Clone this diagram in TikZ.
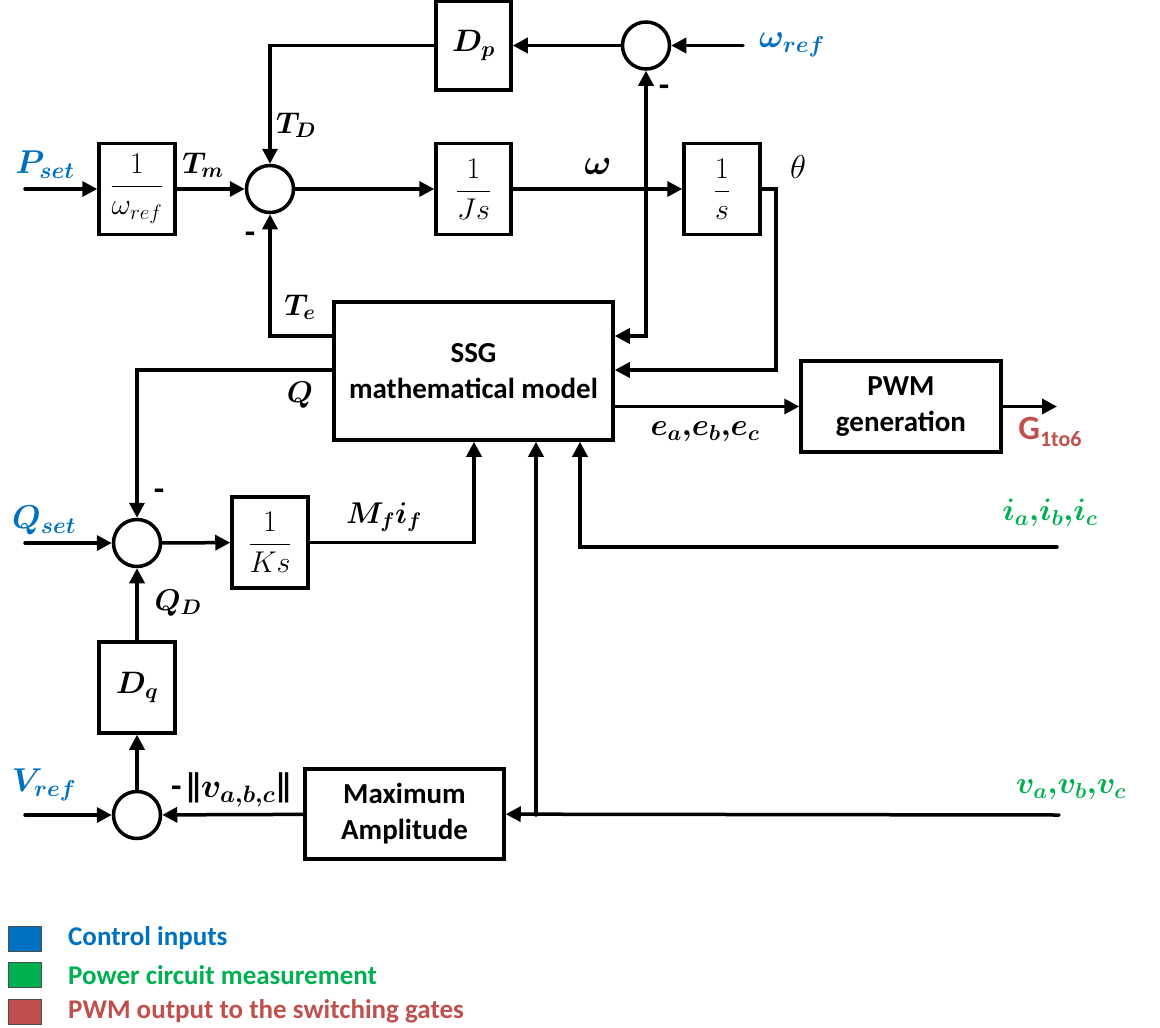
\RequirePackage{fix-cm}
\documentclass[tikz,border=0pt]{standalone}
\usepackage{amsmath}
\usepackage{fontspec}
\setmainfont{Carlito}
\usetikzlibrary{arrows.meta}
\definecolor{ctrl_in}{RGB}{0,112,192}
\definecolor{meas}{RGB}{0,176,80}
\definecolor{pwm_out}{RGB}{192,80,77}
\tikzset{
  blk/.style={draw, line width=3.5pt, minimum width=76pt, minimum height=91pt, inner sep=0pt, font=\fontsize{30}{36}\selectfont},
  sumnode/.style={draw, circle, line width=3.5pt, minimum size=47pt, inner sep=0pt},
  wire/.style={line width=3.5pt, line cap=round},
  sig/.style={wire, -{Triangle[length=15pt,width=15pt]}},
  lbl/.style={inner sep=0pt, font=\fontsize{30}{36}\selectfont},
  inlbl/.style={inner sep=0pt, font=\fontsize{33}{40}\selectfont},
  txt/.style={font=\bfseries\fontsize{29}{36}\selectfont, align=center},
  minus/.style={inner sep=0pt, font=\bfseries\fontsize{34}{40}\selectfont}
}
\begin{document}
\begin{tikzpicture}[x=1pt,y=-1pt]
\useasboundingbox (0,0) rectangle (1160,1028);

\node[blk] (winv) at (137,189) {$\dfrac{1}{\omega_{ref}}$};
\node[blk, minimum width=75pt] (js) at (473.5,189) {$\dfrac{1}{Js}$};
\node[blk] (integ) at (722,189) {$\dfrac{1}{s}$};
\node[blk, minimum width=75pt, minimum height=89pt, font=\fontsize{31}{36}\selectfont] (dp) at (473.5,45.5) {$\boldsymbol{D_p}$};
\node[blk, txt, minimum width=279pt, minimum height=138pt] (ssg) at (473.5,371) {SSG\\mathematical model};
\node[blk, txt, minimum width=200pt] (pwm) at (901,406.5) {PWM\\generation};
\node[blk] (ks) at (270,542.5) {$\dfrac{1}{Ks}$};
\node[blk, font=\fontsize{31}{36}\selectfont] (dq) at (137,687.5) {$\boldsymbol{D_q}$};
\node[blk, txt, minimum width=199pt, minimum height=90pt] (maxamp) at (404.5,814) {Maximum\\Amplitude};

\node[sumnode] (s1) at (270,189) {};
\node[sumnode] (s2) at (646,45.5) {};
\node[sumnode] (s3) at (137,543) {};
\node[sumnode] (s4) at (137,815) {};

\coordinate (pin) at (25,189);
\coordinate (win) at (743,45.5);
\coordinate (qin) at (25,543);
\coordinate (vin) at (25,815);
\coordinate (wtap) at (646,189);
\coordinate (thtap) at (776,189);
\coordinate (vtap) at (536,815);
\coordinate (vmeas) at (1059,815);
\coordinate (iin) at (1057,547);
\coordinate (gout) at (1057,406.5);

\draw[sig] (pin) -- (winv);
\draw[sig] (winv) -- (s1);
\draw[sig] (s1) -- (js);
\draw[sig] (js) -- (integ);
\draw[sig] (wtap) -- (s2);
\draw[sig] (wtap) |- (ssg.east |- 0,336);
\draw[sig] (win) -- (s2);
\draw[sig] (s2) -- (dp);
\draw[sig] (dp) -| (s1);
\draw[sig] (integ) -- (thtap) |- (ssg.east |- 0,370);
\draw[sig] (ssg.west |- 0,336) -| (s1);
\draw[sig] (ssg.west |- 0,370) -| (s3);
\draw[sig] (qin) -- (s3);
\draw[sig] (s3) -- (ks);
\draw[sig] (ks) -| (ssg.south -| 474,0);
\draw[sig] (dq) -- (s3);
\draw[sig] (s4) -- (dq);
\draw[sig] (vin) -- (s4);
\draw[sig] (maxamp) -- (s4);
\draw[sig] (vmeas) -- (maxamp);
\draw[sig] (vtap) -- (ssg.south -| vtap);
\draw[sig] (iin) -| (ssg.south -| 580,0);
\draw[sig] (ssg.east |- pwm) -- (pwm);
\draw[sig] (pwm) -- (gout);

\node[inlbl, text=ctrl_in] (pset) at (45,165) {$\boldsymbol{P_{set}}$};
\node[inlbl, text=ctrl_in] (wref) at (792,45) {$\boldsymbol{\omega_{ref}}$};
\node[inlbl, text=ctrl_in] (qset) at (44,520) {$\boldsymbol{Q_{set}}$};
\node[inlbl, text=ctrl_in] (vref) at (44,785) {$\boldsymbol{V_{ref}}$};
\node[lbl] (tm) at (203,165) {$\boldsymbol{T_m}$};
\node[lbl] (td) at (296,125) {$\boldsymbol{T_D}$};
\node[lbl] (te) at (300,307) {$\boldsymbol{T_e}$};
\node[lbl] (q) at (300,395) {$\boldsymbol{Q}$};
\node[lbl] (qd) at (178,603) {$\boldsymbol{Q_D}$};
\node[inlbl, font=\fontsize{36}{40}\selectfont] (w) at (598,166) {$\boldsymbol{\omega}$};
\node[inlbl] (th) at (798,167) {$\theta$};
\node[lbl] (mfif) at (384,517) {$\boldsymbol{M_f i_f}$};
\node[lbl, font=\fontsize{31}{36}\selectfont] (eabc) at (705,432) {$\boldsymbol{e_a{,}e_b{,}e_c}$};
\node[lbl, font=\fontsize{34}{40}\selectfont] (vnorm) at (233,790) {\textbf{-\kern1pt|\kern-10pt|}\kern-4pt$\boldsymbol{v_{a,b,c}}$\kern-3pt\textbf{|\kern-10pt|}};
\node[lbl, text=meas, font=\fontsize{31}{36}\selectfont] (iabc) at (1050,513) {$\boldsymbol{i_a{,}i_b{,}i_c}$};
\node[lbl, text=meas, font=\fontsize{31}{36}\selectfont] (vabc) at (1071,790) {$\boldsymbol{v_a{,}v_b{,}v_c}$};
\node[lbl, text=pwm_out] (g) at (1050,432) {\textbf{\fontsize{34}{40}\selectfont G\raisebox{-7pt}{\fontsize{22}{26}\selectfont 1to6}}};
\node[minus] (m1) at (250,238) {-};
\node[minus] (m2) at (664,91) {-};
\node[minus] (m3) at (159,495) {-};

\foreach \c/\t [count=\i] in {ctrl_in/Control inputs, meas/Power circuit measurement, pwm_out/PWM output to the switching gates} {
  \node[draw=black!70, line width=1pt, fill=\c, minimum width=33pt, minimum height=25pt, inner sep=0pt] (key\i) at (24.5,938.5+36.5*\i-36.5) {};
  \node[anchor=west, text=\c, inner sep=0pt, font=\bfseries\fontsize{27}{32}\selectfont] (keytxt\i) at (68,938.5+36.5*\i-36.5) {\t};
}
\end{tikzpicture}
\end{document}
